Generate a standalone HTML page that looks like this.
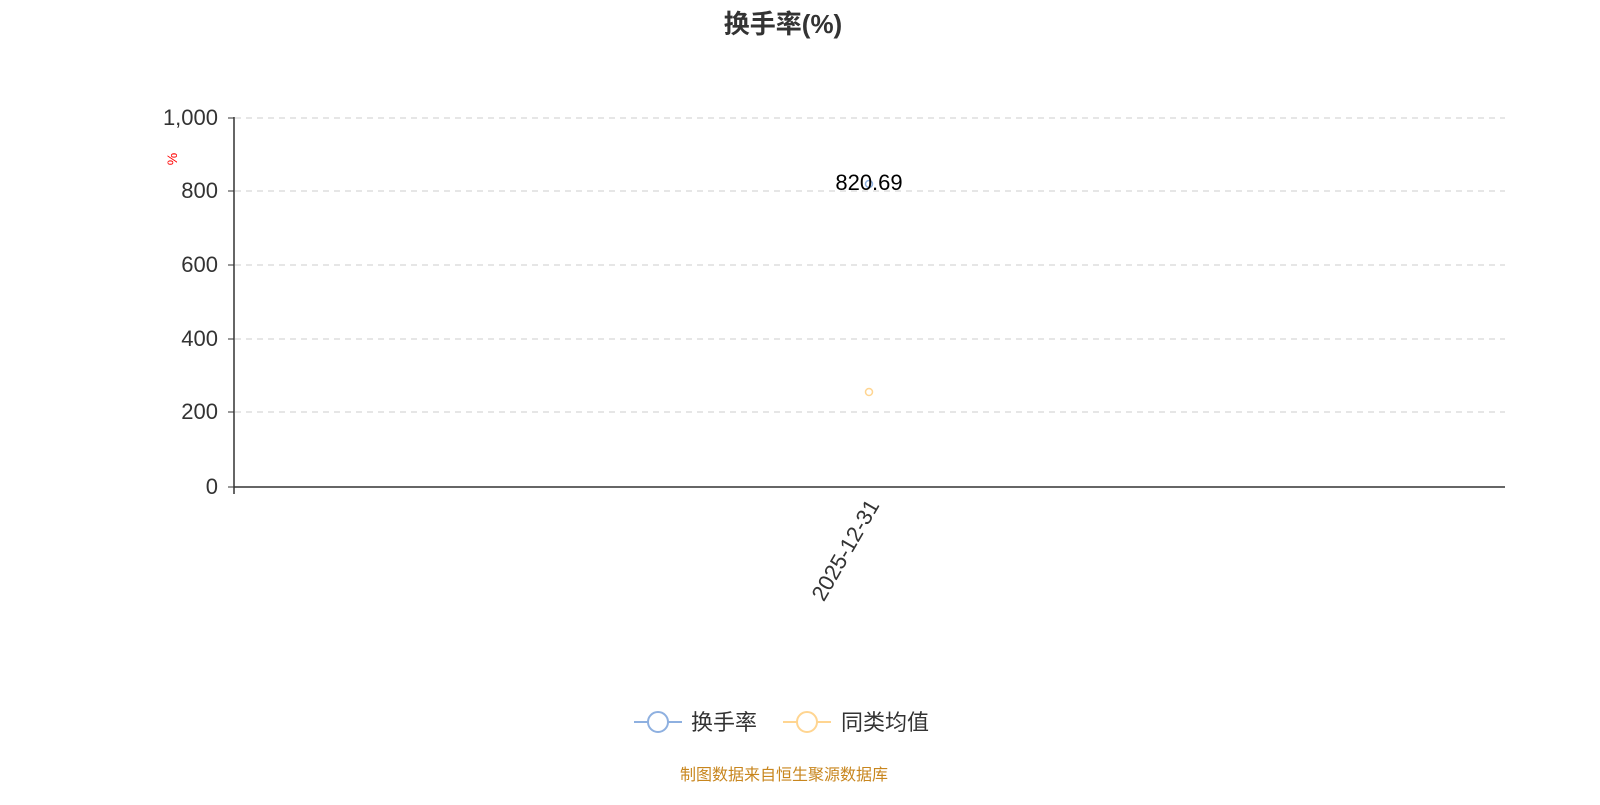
<!DOCTYPE html>
<html><head><meta charset="utf-8"><style>body{margin:0;background:#fff}</style></head><body>
<svg width="1600" height="800" xmlns="http://www.w3.org/2000/svg" font-family="Liberation Sans, Noto Sans CJK SC, sans-serif">
<rect width="1600" height="800" fill="#fff"/>
<text x="783" y="33" text-anchor="middle" font-size="26" font-weight="bold" fill="#333">换手率(%)</text>
<g stroke="#ccc" stroke-dasharray="6,5" stroke-width="1">
<line x1="235" y1="118" x2="1505" y2="118"/>
<line x1="235" y1="191" x2="1505" y2="191"/>
<line x1="235" y1="265" x2="1505" y2="265"/>
<line x1="235" y1="339" x2="1505" y2="339"/>
<line x1="235" y1="412" x2="1505" y2="412"/>
</g>
<line x1="234" y1="117" x2="234" y2="494" stroke="#333" stroke-width="1.5"/>
<line x1="234" y1="487" x2="1505" y2="487" stroke="#333" stroke-width="1.5"/>
<g stroke="#333"><line x1="228" y1="118" x2="234" y2="118"/><line x1="228" y1="191" x2="234" y2="191"/><line x1="228" y1="265" x2="234" y2="265"/><line x1="228" y1="339" x2="234" y2="339"/><line x1="228" y1="412" x2="234" y2="412"/><line x1="228" y1="487" x2="234" y2="487"/></g>
<g font-size="22" fill="#333" text-anchor="end">
<text x="218" y="125">1,000</text><text x="218" y="198">800</text><text x="218" y="272">600</text><text x="218" y="346">400</text><text x="218" y="419">200</text><text x="218" y="494">0</text>
</g>
<text x="172" y="164" font-size="14" fill="red" transform="rotate(-90 172 159)" text-anchor="middle">%</text>
<text x="880" y="505" font-size="22" fill="#333" text-anchor="end" transform="rotate(-60 880 505)">2025-12-31</text>
<circle cx="869" cy="392" r="3.5" fill="#fff" stroke="#ffd591" stroke-width="1.5"/>
<circle cx="869" cy="184" r="3.5" fill="#fff" stroke="#8eb0e0" stroke-width="1.5"/>
<text x="869" y="190" font-size="22" fill="#000" text-anchor="middle">820.69</text>
<line x1="634" y1="722" x2="682" y2="722" stroke="#8eb0e0" stroke-width="2"/>
<circle cx="658" cy="722" r="10" fill="#fff" stroke="#8eb0e0" stroke-width="2"/>
<text x="691" y="730" font-size="22" fill="#333">换手率</text>
<line x1="783" y1="722" x2="831" y2="722" stroke="#ffd591" stroke-width="2"/>
<circle cx="807" cy="722" r="10" fill="#fff" stroke="#ffd591" stroke-width="2"/>
<text x="841" y="730" font-size="22" fill="#333">同类均值</text>
<text x="784" y="780" font-size="16" fill="#c8861e" text-anchor="middle">制图数据来自恒生聚源数据库</text>
</svg>
</body></html>
